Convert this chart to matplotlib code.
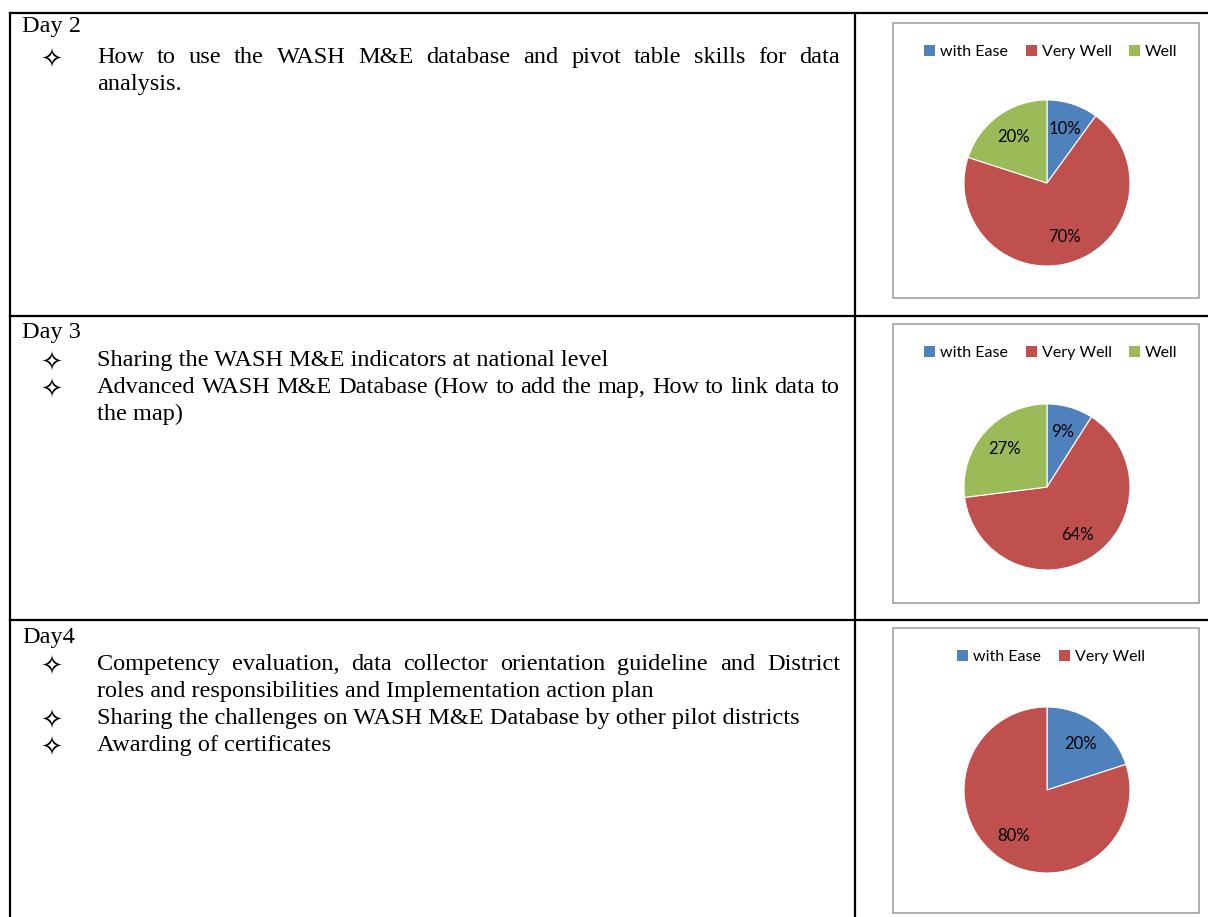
import matplotlib
matplotlib.use("Agg")
import matplotlib.pyplot as plt
from matplotlib.patches import Rectangle, Patch
from matplotlib.lines import Line2D

W, H = 1208, 917

# rating shares per training day
categories = ['with Ease', 'Very Well', 'Well']
day2_shares = [10, 70, 20]
day3_shares = [9, 64, 27]
day4_shares = [20, 80]
slice_colors = ['#4F81BD', '#C0504D', '#9BBB59']

day_titles = ['Day 2', 'Day 3', 'Day4']
# (text, starts with bullet, justified)
day2_lines = [
    ("How to use the WASH M&E database and pivot table skills for data", True, True),
    ("analysis.", False, False),
]
day3_lines = [
    ("Sharing the WASH M&E indicators at national level", True, False),
    ("Advanced WASH M&E Database (How to add the map, How to link data to", True, True),
    ("the map)", False, False),
]
day4_lines = [
    ("Competency evaluation, data collector orientation guideline and District", True, True),
    ("roles and responsibilities and Implementation action plan", False, False),
    ("Sharing the challenges on WASH M&E Database by other pilot districts", True, False),
    ("Awarding of certificates", True, False),
]


def fx(x):
    return x / W


def fy(y):
    return 1 - y / H


fig = plt.figure(figsize=(W / 100, H / 100), dpi=100)
renderer = fig.canvas.get_renderer()

serif = dict(family=['Liberation Serif', 'DejaVu Sans'], fontsize=17.5, color='black', va='baseline')
chart_font = ['Lato', 'DejaVu Sans']

# table grid
row_tops = [13, 316, 620]
for y in row_tops:
    fig.add_artist(Line2D([fx(10), fx(1210)], [fy(y), fy(y)], color='black', lw=1.6))
for x in [10, 855]:
    fig.add_artist(Line2D([fx(x), fx(x)], [fy(13), fy(920)], color='black', lw=1.6))


def put_line(x0, x1, y, text, justify):
    if not justify:
        fig.text(fx(x0), fy(y), text, **serif)
        return
    words = text.split()
    objs = [fig.text(0, fy(y), w, **serif) for w in words]
    widths = [o.get_window_extent(renderer).width for o in objs]
    gap = (x1 - x0 - sum(widths)) / (len(words) - 1)
    x = x0
    for o, w in zip(objs, widths):
        o.set_x(fx(x))
        x += w + gap


def write_day(title, lines, top, title_off):
    fig.text(fx(22), fy(top + title_off), title, **serif)
    y = top + 50
    for text, bullet, justify in lines:
        if bullet:
            fig.text(fx(52), fy(y - 6), '\u2727', family=['DejaVu Sans'], fontsize=19,
                     ha='center', va='center_baseline')
        put_line(97, 840, y, text, justify)
        y += 27


write_day(day_titles[0], day2_lines, 13, 19)
write_day(day_titles[1], day3_lines, 316, 22)
write_day(day_titles[2], day4_lines, 620, 23)


def draw_pie(shares, box_top, box_bottom, cy):
    fig.add_artist(Rectangle((fx(893), fy(box_bottom)), fx(1199) - fx(893),
                             fy(box_top) - fy(box_bottom), fill=False,
                             edgecolor='#9a9a9a', lw=1.1))
    r = 83
    ax = fig.add_axes([fx(1047 - r), fy(cy + r), 2 * r / W, 2 * r / H])
    colors = slice_colors[:len(shares)]
    ax.pie(shares, colors=colors, startangle=90, counterclock=False,
           autopct='%.0f%%', pctdistance=0.69,
           wedgeprops=dict(edgecolor='white', linewidth=0.8),
           textprops=dict(family=chart_font, fontsize=12, color='black'))
    ax.set_xlim(-1, 1)
    ax.set_ylim(-1, 1)
    ax.set_aspect('equal')
    handles = [Patch(facecolor=c) for c in colors]
    fig.legend(handles, categories[:len(shares)], loc='center',
               bbox_to_anchor=(fx(1051), fy(box_top + 29)), ncol=len(shares),
               frameon=False, handlelength=0.7, handleheight=0.7, handletextpad=0.3,
               columnspacing=1.1, prop=dict(family=chart_font, size=11.5))


draw_pie(day2_shares, 23, 298, 183)
draw_pie(day3_shares, 324, 603, 487)
draw_pie(day4_shares, 628, 913, 790)

fig.savefig('out.png', dpi=100)
